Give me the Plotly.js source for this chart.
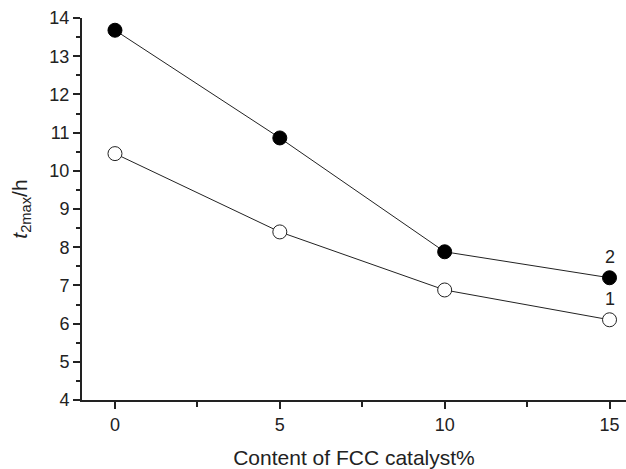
<!DOCTYPE html>
<html><head><meta charset="utf-8">
<script src="https://cdn.plot.ly/plotly-3.0.1.min.js"></script>
<style>body{margin:0;padding:0;background:#fff}#chart{width:626px;height:469px}</style>
</head><body><div id="chart"></div>
<script>
const xCats = [0, 5, 10, 15];
const series1 = [10.45, 8.4, 6.88, 6.1];   // open circles, label "1"
const series2 = [13.68, 10.86, 7.88, 7.2]; // filled circles, label "2"
const xTicks = [0, 5, 10, 15];
const yTicks = [4,5,6,7,8,9,10,11,12,13,14];

const traces = [
  {x: xCats, y: series1, mode: 'lines+markers', type: 'scatter',
   line: {color: '#222', width: 1},
   marker: {size: 14, color: '#fff', line: {color: '#222', width: 1}}},
  {x: xCats, y: series2, mode: 'lines+markers', type: 'scatter',
   line: {color: '#222', width: 1},
   marker: {size: 14, color: '#000', line: {color: '#000', width: 1}}}
];
const family = 'Liberation Sans, Arial, sans-serif';
const tickFont = {family: family, size: 18, color: '#222'};
const titleFont = {family: family, size: 21, color: '#222'};
const layout = {
  width: 626, height: 469, showlegend: false,
  margin: {l: 82, r: 0, t: 18, b: 69},
  paper_bgcolor: '#fff', plot_bgcolor: '#fff', font: tickFont,
  xaxis: {range: [-1, 15.5], tickvals: xTicks, ticks: 'outside', ticklen: 7, tickwidth: 2,
    tickcolor: '#222', showline: true, linecolor: '#222', linewidth: 2, showgrid: false, zeroline: false,
    tickfont: tickFont,
    minor: {dtick: 2.5, tick0: 0, ticks: 'outside', ticklen: 5, tickwidth: 2, tickcolor: '#222', showgrid: false},
    title: {text: 'Content of FCC catalyst%', font: titleFont, standoff: 17}},
  yaxis: {range: [4, 14], tickvals: yTicks, ticks: 'outside', ticklen: 7, tickwidth: 2,
    tickcolor: '#222', showline: true, linecolor: '#222', linewidth: 2, showgrid: false, zeroline: false,
    tickfont: tickFont,
    minor: {dtick: 0.5, tick0: 4, ticks: 'outside', ticklen: 4, tickwidth: 2, tickcolor: '#222', showgrid: false},
    title: {text: '<i>t</i><sub>2max</sub>/h', font: titleFont, standoff: 16}},
  annotations: [
    {x: xCats[3], y: series2[3], text: '2', showarrow: false, yshift: 21, font: tickFont},
    {x: xCats[3], y: series1[3], text: '1', showarrow: false, yshift: 21, font: tickFont}
  ]
};
Plotly.newPlot('chart', traces, layout, {displayModeBar: false});
</script></body></html>
